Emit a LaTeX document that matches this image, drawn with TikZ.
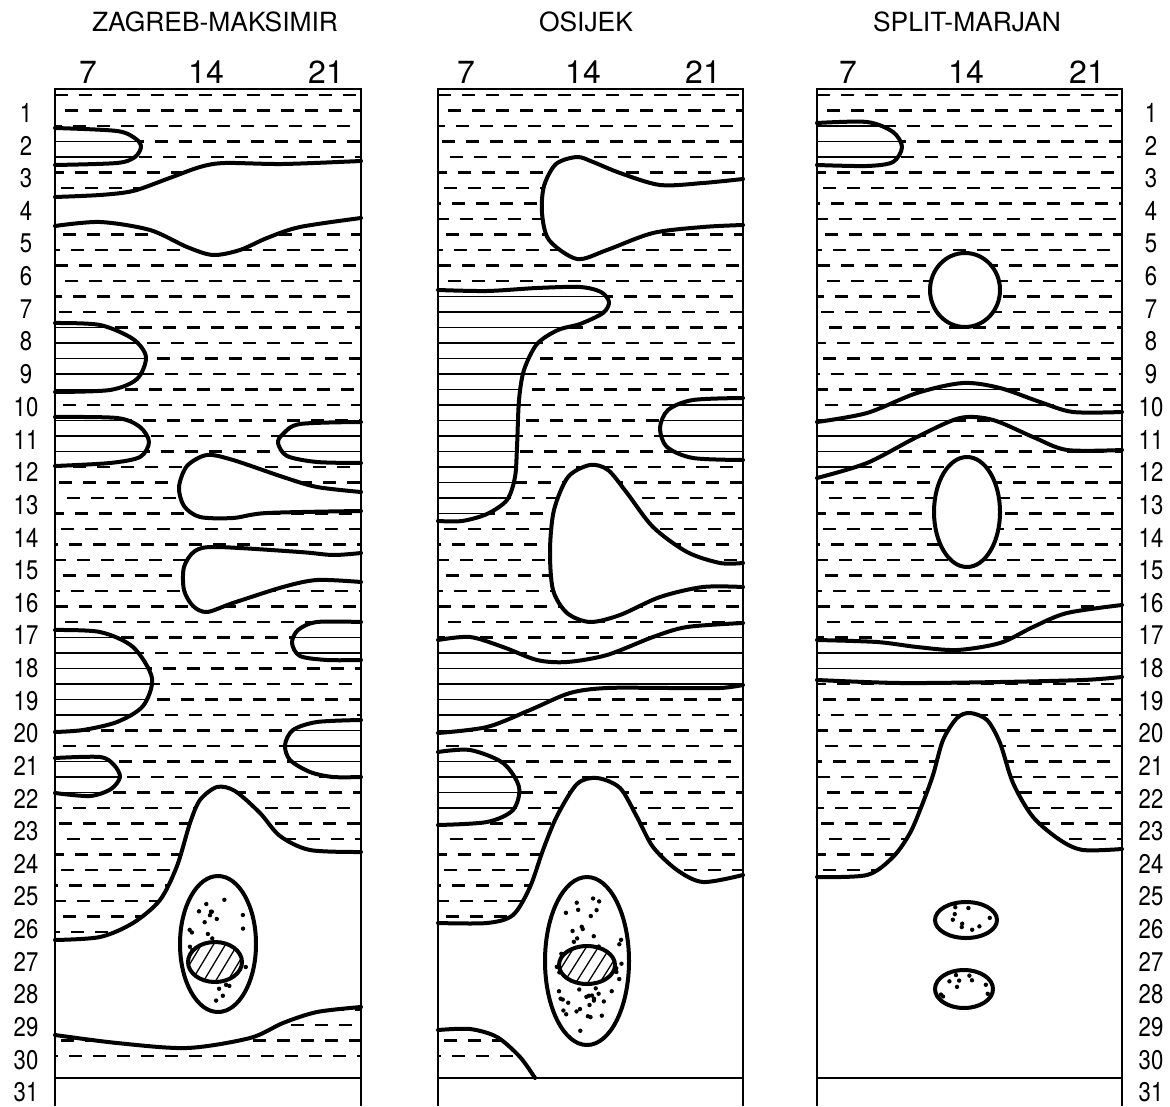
\documentclass[tikz,border=0pt]{standalone}
\usepackage{fontspec}
\setmainfont{TeX Gyre Heros}
\newfontfamily\rowfont[FakeStretch=0.82]{TeX Gyre Heros}
\usetikzlibrary{positioning}
\tikzset{
  frameline/.style={line width=0.8pt},
  contour/.style={line width=2pt, line join=round, line cap=round},
  dashrow/.style={line width=1.15pt, dash pattern=on 6.5pt off 5.5pt},
  hatchrow/.style={line width=0.75pt},
  diagrow/.style={line width=0.65pt},
  sitetitle/.style={font=\fontsize{13.2}{15}\selectfont},
  daylabel/.style={font=\fontsize{16}{18}\selectfont},
  rowlabel/.style={font=\rowfont\fontsize{13.5}{15}\selectfont, inner sep=0.5pt}
}
% rows of the grid
\newcommand\dashrows[2]{%
  \foreach \k in {0,...,62} {
    \pgfmathsetmacro\yy{95+15.5*\k}
    \pgfmathsetmacro\ph{mod(\k*7,11)}
    \draw[dashrow, dash phase=\ph pt] (#1,\yy) -- (#2,\yy);
  }}
\newcommand\hatchrows[2]{%
  \foreach \k in {0,...,62} {
    \pgfmathsetmacro\yy{95+15.5*\k}
    \draw[hatchrow] (#1,\yy) -- (#2,\yy);
  }}
\newcommand\hatchregion[3]{%
  \begin{scope}
    \clip #1;
    \fill[white] (#2,85) rectangle (#3,1080);
    \hatchrows{#2}{#3}
  \end{scope}}
\newcommand\speckle[5]{%
  \foreach \i in {1,...,#5} {
    \pgfmathsetmacro\rr{0.86*sqrt(rnd)}
    \pgfmathsetmacro\aa{360*rnd}
    \fill ({#1+#3*\rr*cos(\aa)},{#2+#4*\rr*sin(\aa)}) circle (1.1pt);
  }}
\newcommand\diagellipse[4]{%
  \fill[white] (#1,#2) ellipse [x radius=#3, y radius=#4];
  \begin{scope}
    \clip (#1,#2) ellipse [x radius=#3, y radius=#4];
    \foreach \d in {-60,-48,...,48}
      \draw[diagrow] ({#1+\d},{#2+#4}) -- ({#1+\d+24},{#2-#4});
  \end{scope}
  \draw[contour] (#1,#2) ellipse [x radius=#3, y radius=#4];}

% Zagreb-Maksimir
\newcommand\zmBlobA{(55,128) (117,131) (136,139) (141,147) (135,157) (117,163) (55,165)}
\newcommand\zmBandTop{(55,197) (100,195) (133,191) (167,179) (200,167) (225,163) (283,164) (361,161)}
\newcommand\zmBandBot{(361,218) (300,227) (267,238) (240,250) (213,255) (187,247) (150,230) (100,222) (55,226)}
\newcommand\zmBlobC{(55,323) (100,325) (133,339) (146,357) (137,379) (110,390) (55,392)}
\newcommand\zmBlobD{(55,417) (117,418) (140,427) (149,442) (140,457) (110,463) (55,466)}
\newcommand\zmBlobE{(361,422) (300,424) (283,434) (278,443) (287,456) (317,462) (361,463)}
\newcommand\zmLobeF{(361,492) (317,487) (283,477) (233,460) (207,455) (187,466) (179,487) (184,506) (200,517) (233,518) (267,513) (361,511)}
\newcommand\zmLobeG{(361,553) (333,555) (300,552) (217,547) (195,551) (184,567) (184,590) (193,606) (207,612) (233,603) (283,587) (317,580) (361,582)}
\newcommand\zmBlobH{(361,622) (317,622) (298,630) (292,643) (300,656) (327,660) (361,660)}
\newcommand\zmBlobI{(55,630) (100,632) (133,647) (152,678) (143,706) (117,722) (83,730) (55,732)}
\newcommand\zmBlobJ{(361,720) (317,722) (293,730) (285,745) (290,760) (310,772) (333,777) (361,777)}
\newcommand\zmBlobK{(55,758) (100,757) (114,765) (120,777) (111,789) (90,796) (55,793)}
\newcommand\zmLowTop{(55,940) (100,937) (133,923) (160,900) (177,866) (190,823) (200,800) (217,787) (235,791) (260,813) (280,836) (310,850) (361,852)}
\newcommand\zmLowBot{(361,1007) (317,1012) (283,1023) (250,1038) (187,1048) (117,1043) (55,1035)}
% Osijek
\newcommand\osLobeA{(743,179) (703,183) (660,185) (620,173) (593,162) (577,157) (556,164) (544,186) (542,213) (549,240) (577,259) (607,250) (653,233) (703,227) (743,225)}
\newcommand\osBlobB{(438,290) (487,291) (537,288) (580,287) (601,292) (609,302) (603,313) (580,324) (558,330) (537,344) (524,370) (519,400) (517,447) (515,477) (507,500) (487,514) (462,521) (438,521)}
\newcommand\osBlobC{(743,398) (693,400) (668,410) (660,428) (667,447) (693,458) (743,460)}
\newcommand\osLobeD{(743,563) (720,563) (687,552) (653,527) (627,493) (608,470) (590,465) (568,477) (554,510) (550,550) (553,590) (567,613) (590,622) (620,615) (660,597) (703,587) (743,587)}
\newcommand\osBandTop{(438,640) (470,637) (503,647) (537,660) (567,662) (607,655) (653,637) (687,627) (743,623)}
\newcommand\osBandBot{(743,685) (720,688) (670,688) (607,688) (570,693) (530,710) (487,727) (438,733)}
\newcommand\osBlobF{(438,752) (470,750) (503,763) (519,787) (513,810) (487,822) (438,825)}
\newcommand\osLowTop{(438,923) (487,923) (513,915) (530,887) (543,850) (557,816) (577,784) (597,778) (620,788) (637,817) (653,847) (677,870) (703,882) (743,875)}
\newcommand\osLowBot{(535,1078) (520,1057) (497,1037) (470,1029) (438,1030)}
% Split-Marjan
\newcommand\spBlobA{(817,123) (867,122) (893,132) (902,147) (893,162) (867,166) (817,165)}
\newcommand\spBandTop{(817,422) (867,413) (917,393) (963,383) (1000,388) (1040,402) (1073,412) (1122,412)}
\newcommand\spBandBot{(1122,450) (1067,450) (1033,437) (993,420) (960,418) (917,437) (867,463) (817,478)}
\newcommand\spStripTop{(817,640) (877,642) (917,647) (957,650) (1000,643) (1033,627) (1067,613) (1122,605)}
\newcommand\spStripBot{(1122,677) (1083,680) (1000,682) (900,683) (817,680)}
\newcommand\spLowTop{(817,877) (867,875) (893,857) (910,833) (922,805) (933,775) (943,740) (957,718) (970,713) (987,720) (1000,743) (1013,783) (1033,817) (1060,840) (1083,850) (1122,849)}

\begin{document}
\begin{tikzpicture}[x=0.5pt, y=-0.5pt]
  \useasboundingbox (0,0) rectangle (1170,1106);
  \pgfmathsetseed{11}
  % dashed ground in every column
  \foreach \L/\R in {55/361, 438/743, 817/1122} {
    \begin{scope}
      \clip (\L,89) rectangle (\R,1078);
      \dashrows{\L}{\R}
    \end{scope}
  }
  % clear areas
  \fill[white] plot[smooth] coordinates {\zmBandTop} -- plot[smooth] coordinates {\zmBandBot} -- cycle;
  \fill[white] plot[smooth] coordinates {\zmLobeF} -- cycle;
  \fill[white] plot[smooth] coordinates {\zmLobeG} -- cycle;
  \fill[white] plot[smooth] coordinates {\zmLowTop} -- plot[smooth] coordinates {\zmLowBot} -- cycle;
  \fill[white] plot[smooth] coordinates {\osLobeA} -- cycle;
  \fill[white] plot[smooth] coordinates {\osLobeD} -- cycle;
  \fill[white] plot[smooth] coordinates {\osLowTop} -- (743,1078) -- plot[smooth] coordinates {\osLowBot} -- cycle;
  \fill[white] plot[smooth] coordinates {\spLowTop} -- (1122,1080) -- (817,1080) -- cycle;
  \foreach \L/\R in {55/361, 438/743, 817/1122}
    \fill[white] (\L,1078) rectangle (\R,1106);
  % ruled areas
  \hatchregion{plot[smooth] coordinates {\zmBlobA} -- cycle}{55}{361}
  \hatchregion{plot[smooth] coordinates {\zmBlobC} -- cycle}{55}{361}
  \hatchregion{plot[smooth] coordinates {\zmBlobD} -- cycle}{55}{361}
  \hatchregion{plot[smooth] coordinates {\zmBlobE} -- cycle}{55}{361}
  \hatchregion{plot[smooth] coordinates {\zmBlobH} -- cycle}{55}{361}
  \hatchregion{plot[smooth] coordinates {\zmBlobI} -- cycle}{55}{361}
  \hatchregion{plot[smooth] coordinates {\zmBlobJ} -- cycle}{55}{361}
  \hatchregion{plot[smooth] coordinates {\zmBlobK} -- cycle}{55}{361}
  \hatchregion{plot[smooth] coordinates {\osBlobB} -- cycle}{438}{743}
  \hatchregion{plot[smooth] coordinates {\osBlobC} -- cycle}{438}{743}
  \hatchregion{plot[smooth] coordinates {\osBandTop} -- plot[smooth] coordinates {\osBandBot} -- cycle}{438}{743}
  \hatchregion{plot[smooth] coordinates {\osBlobF} -- cycle}{438}{743}
  \hatchregion{plot[smooth] coordinates {\spBlobA} -- cycle}{817}{1122}
  \hatchregion{plot[smooth] coordinates {\spBandTop} -- plot[smooth] coordinates {\spBandBot} -- cycle}{817}{1122}
  \hatchregion{plot[smooth] coordinates {\spStripTop} -- plot[smooth] coordinates {\spStripBot} -- cycle}{817}{1122}
  % contours
  \foreach \c in {\zmBlobA, \zmBandTop, \zmBandBot, \zmBlobC, \zmBlobD, \zmBlobE, \zmLobeF, \zmLobeG,
                  \zmBlobH, \zmBlobI, \zmBlobJ, \zmBlobK, \zmLowTop, \zmLowBot,
                  \osLobeA, \osBlobB, \osBlobC, \osLobeD, \osBandTop, \osBandBot, \osBlobF, \osLowTop, \osLowBot,
                  \spBlobA, \spBandTop, \spBandBot, \spStripTop, \spStripBot, \spLowTop}
    \draw[contour] plot[smooth] coordinates {\c};
  % closed spots in Split
  \fill[white] (965,290) ellipse [x radius=35, y radius=37];
  \draw[contour] (965,290) ellipse [x radius=35, y radius=37];
  \fill[white] (967,512) ellipse [x radius=33, y radius=55];
  \draw[contour] (967,512) ellipse [x radius=33, y radius=55];
  % dotted cores
  \fill[white] (218,944) ellipse [x radius=38, y radius=68];
  \speckle{218}{944}{38}{68}{30}
  \draw[contour] (218,944) ellipse [x radius=38, y radius=68];
  \diagellipse{215}{962}{27}{20}
  \fill[white] (587,961) ellipse [x radius=42, y radius=84];
  \speckle{587}{961}{42}{84}{58}
  \draw[contour] (587,961) ellipse [x radius=42, y radius=84];
  \diagellipse{587}{965}{28}{19}
  \speckle{966}{920}{31}{18}{9}
  \draw[contour] (966,920) ellipse [x radius=31, y radius=18];
  \speckle{964}{989}{29}{19}{10}
  \draw[contour] (964,989) ellipse [x radius=29, y radius=19];
  % frames
  \foreach \L/\R in {55/361, 438/743, 817/1122} {
    \draw[frameline] (\L,1106) -- (\L,89) -- (\R,89) -- (\R,1106);
    \draw[frameline] (\L,1078) -- (\R,1078);
  }
  % labels
  \node[sitetitle] (zagreb) at (215,22) {ZAGREB-MAKSIMIR};
  \node[sitetitle] (osijek) at (586,22) {OSIJEK};
  \node[sitetitle] (split) at (967,22) {SPLIT-MARJAN};
  \foreach \px/\lab [count=\i] in {88/7, 206/14, 326/21, 466/7, 583/14, 703/21, 848/7, 966/14, 1087/21}
    \node[daylabel] (day\i) at (\px,72) {\lab};
  \foreach \r in {1,...,31} {
    \pgfmathsetmacro\ry{113+32.65*(\r-1)}
    \node[rowlabel] (lrow\r) at (26,\ry) {\r};
    \node[rowlabel] (rrow\r) at (1151,\ry) {\r};
  }
\end{tikzpicture}
\end{document}
